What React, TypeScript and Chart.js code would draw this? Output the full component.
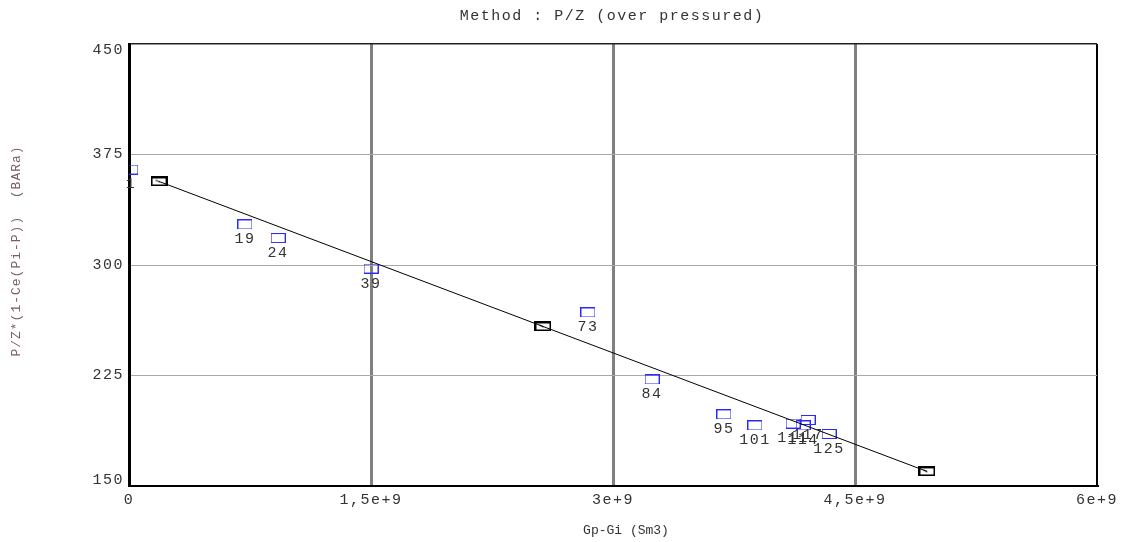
import React, { useEffect, useRef } from 'react';
import { Chart, registerables } from 'chart.js';

Chart.register(...registerables);

// ---- data ----
const pointLabels = ['1', '19', '24', '39', '73', '84', '95', '101', '111', '114', '117', '125'];
const gpValues = [0.012e9, 0.719e9, 0.924e9, 1.5e9, 2.845e9, 3.242e9, 3.688e9, 3.88e9, 4.116e9, 4.178e9, 4.209e9, 4.339e9];
const pzValues = [364.8, 327.5, 318.3, 297.6, 267.8, 222.3, 198.6, 191.1, 192.4, 191.1, 194.8, 185.3];
const fitGp = [0.186e9, 2.566e9, 4.946e9];
const fitPz = [356.7, 258.3, 159.9];
const xTickValues = [0, 1.5e9, 3e9, 4.5e9, 6e9];
const xTickLabels = ['0', '1,5e+9', '3e+9', '4,5e+9', '6e+9'];
const yTickValues = [150, 225, 300, 375, 450];

const chartTitle = 'Method : P/Z (over pressured)';
const xTitle = 'Gp-Gi (Sm3)';
const yTitle = 'P/Z*(1-Ce(Pi-P))  (BARa)';

const MONO = "'Liberation Mono', 'Courier New', monospace";

function makeBlueBox(): HTMLCanvasElement {
  const c = document.createElement('canvas');
  c.width = 15;
  c.height = 10;
  const g = c.getContext('2d')!;
  g.strokeStyle = '#2a2aff';
  g.lineWidth = 1;
  g.strokeRect(0.5, 0.5, 14, 9);
  return c;
}

function makeBlackBox(): HTMLCanvasElement {
  const c = document.createElement('canvas');
  c.width = 17;
  c.height = 10;
  const g = c.getContext('2d')!;
  g.strokeStyle = '#000';
  g.lineWidth = 2;
  g.strokeRect(1, 1, 15, 8);
  g.lineWidth = 1;
  g.beginPath();
  g.moveTo(5, 3.5);
  g.lineTo(9, 5.5);
  g.stroke();
  return c;
}

const textPlugin = {
  id: 'textPlugin',
  beforeDraw(chart: any) {
    const ctx = chart.ctx;
    (ctx as any).letterSpacing = '1.5px';
  },
  afterDatasetsDraw(chart: any) {
    const ctx = chart.ctx;
    const meta = chart.getDatasetMeta(1);
    ctx.save();
    (ctx as any).letterSpacing = '1.5px';
    ctx.font = `15px ${MONO}`;
    ctx.fillStyle = '#333';
    ctx.textAlign = 'center';
    ctx.textBaseline = 'middle';
    meta.data.forEach((el: any, i: number) => {
      ctx.fillText(pointLabels[i], el.x, el.y + 15);
    });
    ctx.restore();
  },
  afterDraw(chart: any) {
    const ctx = chart.ctx;
    ctx.save();
    ctx.textAlign = 'center';
    ctx.textBaseline = 'middle';
    // main title
    (ctx as any).letterSpacing = '1.5px';
    ctx.font = `15px ${MONO}`;
    ctx.fillStyle = '#333';
    ctx.fillText(chartTitle, 612, 16);
    // x title
    (ctx as any).letterSpacing = '0px';
    ctx.font = `13px ${MONO}`;
    ctx.fillStyle = '#333';
    ctx.fillText(xTitle, 626, 531);
    // y title
    (ctx as any).letterSpacing = '1px';
    ctx.fillStyle = '#7a5a6c';
    ctx.translate(17, 251);
    ctx.rotate(-Math.PI / 2);
    ctx.fillText(yTitle, 0, 0);
    ctx.restore();
  },
};

export default function App() {
  const ref = useRef<HTMLCanvasElement | null>(null);

  useEffect(() => {
    if (!ref.current) return;
    const blue = makeBlueBox();
    const black = makeBlackBox();

    const chart = new Chart(ref.current, {
      type: 'scatter',
      data: {
        datasets: [
          {
            label: 'fit',
            data: fitGp.map((x, i) => ({ x, y: fitPz[i] })),
            showLine: true,
            borderColor: '#000',
            borderWidth: 1,
            pointStyle: black as any,
            pointRadius: 5,
          },
          {
            label: 'points',
            data: gpValues.map((x, i) => ({ x, y: pzValues[i] })),
            showLine: false,
            pointStyle: blue as any,
            pointRadius: 5,
          },
        ],
      },
      options: {
        animation: false,
        responsive: false,
        devicePixelRatio: 1,
        layout: { padding: { top: 44, right: 24, left: 0, bottom: 0 } },
        plugins: {
          legend: { display: false },
          tooltip: { enabled: false },
          title: { display: false },
        },
        scales: {
          x: {
            type: 'linear',
            min: 0,
            max: 6e9,
            afterBuildTicks: (scale: any) => {
              scale.ticks = xTickValues.map((v) => ({ value: v }));
            },
            afterFit: (scale: any) => {
              scale.height = 56;
            },
            ticks: {
              autoSkip: false,
              maxRotation: 0,
              padding: 5,
              color: '#333',
              font: { family: MONO, size: 15 },
              callback: (_v: any, i: number) => xTickLabels[i],
            },
            grid: {
              drawTicks: false,
              color: (c: any) => (c.index === 0 ? 'rgba(0,0,0,0)' : c.index === 4 ? '#000' : '#808080'),
              lineWidth: (c: any) => (c.index === 4 ? 2 : 3),
            },
            border: { color: '#000', width: 2 },
          },
          y: {
            type: 'linear',
            min: 150,
            max: 450,
            afterBuildTicks: (scale: any) => {
              scale.ticks = yTickValues.map((v) => ({ value: v }));
            },
            afterFit: (scale: any) => {
              scale.width = 129;
            },
            ticks: {
              autoSkip: false,
              padding: 5,
              color: '#333',
              font: { family: MONO, size: 15, lineHeight: 0.8 },
              callback: (v: any, i: number) => {
                const s = String(v);
                if (i === yTickValues.length - 1) return ['', s];
                if (i === 0) return [s, ''];
                return s;
              },
            },
            grid: {
              drawTicks: false,
              color: (c: any) => (c.index === 0 ? 'rgba(0,0,0,0)' : c.index === 4 ? '#222' : '#a8a8a8'),
              lineWidth: (c: any) => (c.index === 4 ? 1.5 : 1),
            },
            border: { color: '#000', width: 3 },
          },
        },
      },
      plugins: [textPlugin],
    } as any);

    return () => chart.destroy();
  }, []);

  return (
    <div style={{ position: 'absolute', left: 0, top: 0, width: 1121, height: 542, background: '#fff' }}>
      <canvas ref={ref} width={1121} height={542} />
    </div>
  );
}
